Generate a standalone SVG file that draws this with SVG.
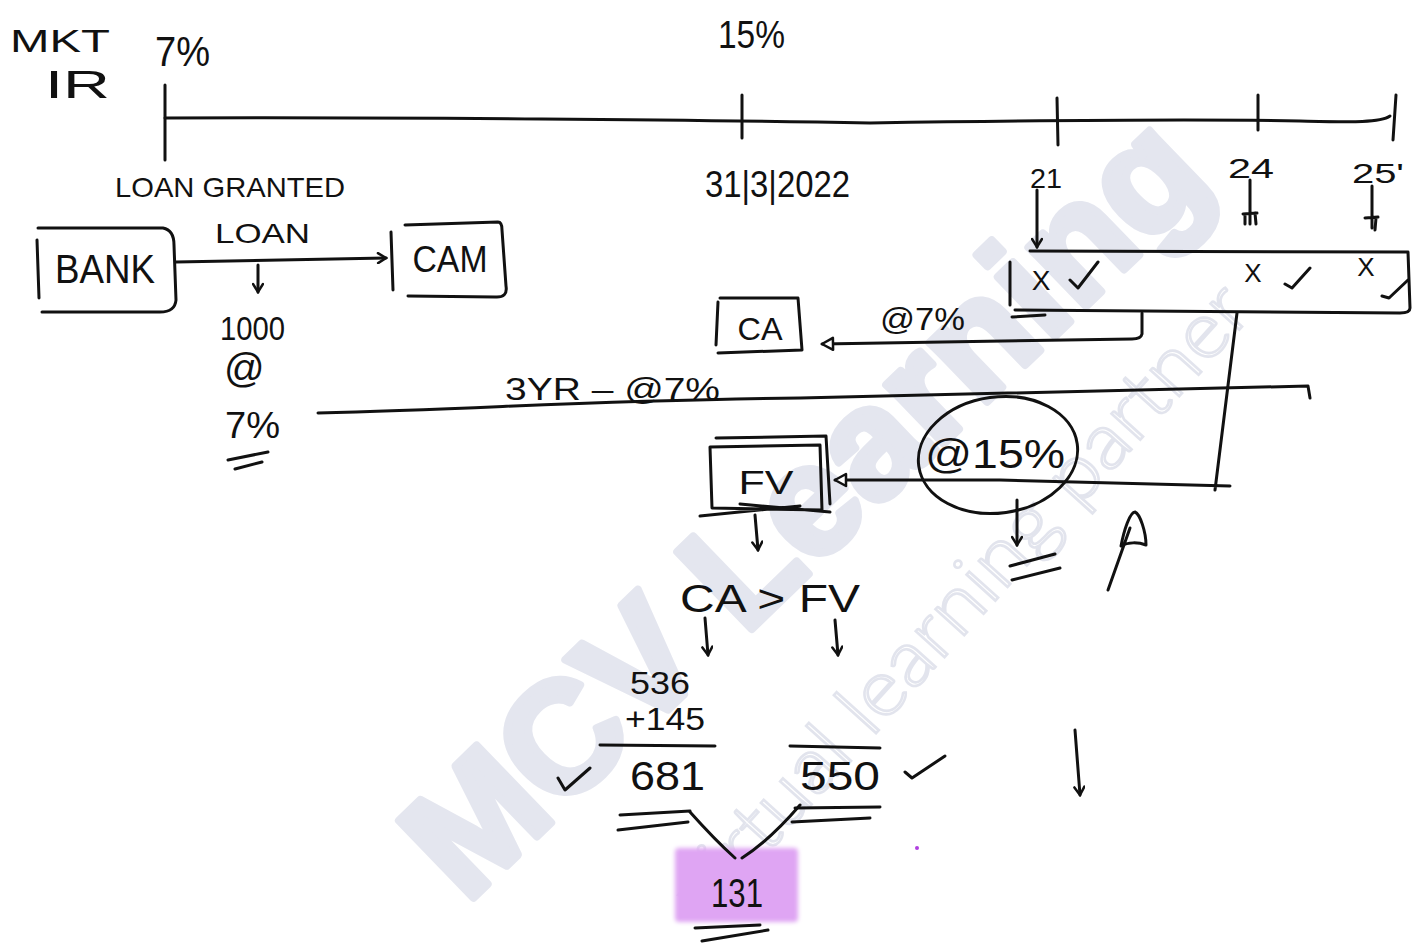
<svg xmlns="http://www.w3.org/2000/svg" width="1424" height="946" viewBox="0 0 1424 946">
<style>
.s{fill:none;stroke:#111;stroke-width:3;stroke-linecap:round;stroke-linejoin:round}
.t{font-family:"Liberation Sans",Arial,sans-serif;fill:#111}
.wm{font-family:"Liberation Sans",Arial,sans-serif;font-weight:bold;fill:#e4e6ef;stroke:#e4e6ef;stroke-width:8;stroke-linejoin:round}
.wm2{font-family:Lato,"Liberation Sans",sans-serif;font-weight:300;fill:none;stroke:#e2e4ed;stroke-width:2.5}
</style>
<defs>
<marker id="ah" viewBox="0 0 12 12" refX="10" refY="6" markerWidth="12" markerHeight="12" markerUnits="userSpaceOnUse" orient="auto">
<path d="M2,1 L10,6 L2,11" fill="none" stroke="#111" stroke-width="2.5" stroke-linecap="round"/>
</marker>
<marker id="oh" viewBox="0 0 16 16" refX="14" refY="8" markerWidth="16" markerHeight="16" markerUnits="userSpaceOnUse" orient="auto">
<path d="M3,2 L14,8 L3,14 Z" fill="#fff" stroke="#111" stroke-width="2.5" stroke-linejoin="round"/>
</marker>
<filter id="soft" x="-10%" y="-10%" width="120%" height="120%"><feGaussianBlur stdDeviation="2"/></filter>
</defs>
<rect width="1424" height="946" fill="#fff"/>
<g id="watermark">
<text class="wm" font-size="156" transform="translate(466,905) rotate(-44)" textLength="1040" lengthAdjust="spacingAndGlyphs">MCV Learning</text>
<text class="wm2" font-size="78" transform="translate(706,922) rotate(-48)" textLength="820" lengthAdjust="spacingAndGlyphs">virtual learning partner</text>
</g>
<g id="labels">
<text class="t" x="10" y="52" font-size="32" textLength="100" lengthAdjust="spacingAndGlyphs">MKT</text>
<text class="t" x="45" y="98" font-size="38" textLength="65" lengthAdjust="spacingAndGlyphs">IR</text>
<text class="t" x="155" y="66" font-size="42" textLength="55" lengthAdjust="spacingAndGlyphs">7%</text>
<text class="t" x="718" y="48" font-size="38" textLength="67" lengthAdjust="spacingAndGlyphs">15%</text>
<text class="t" x="115" y="197" font-size="28" textLength="230" lengthAdjust="spacingAndGlyphs">LOAN GRANTED</text>
<text class="t" x="705" y="197" font-size="36" textLength="145" lengthAdjust="spacingAndGlyphs">31|3|2022</text>
<text class="t" x="1030" y="188" font-size="28" textLength="32" lengthAdjust="spacingAndGlyphs">21</text>
<text class="t" x="1228" y="178" font-size="28" textLength="46" lengthAdjust="spacingAndGlyphs">24</text>
<text class="t" x="1352" y="183" font-size="28" textLength="52" lengthAdjust="spacingAndGlyphs">25'</text>
<text class="t" x="215" y="243" font-size="28" textLength="95" lengthAdjust="spacingAndGlyphs">LOAN</text>
<text class="t" x="220" y="340" font-size="34" textLength="65" lengthAdjust="spacingAndGlyphs">1000</text>
<text class="t" x="224" y="382" font-size="40">@</text>
<text class="t" x="225" y="438" font-size="36" textLength="55" lengthAdjust="spacingAndGlyphs">7%</text>
<text class="t" x="505" y="400" font-size="32" textLength="215" lengthAdjust="spacingAndGlyphs">3YR – @7%</text>
<text class="t" x="880" y="330" font-size="32" textLength="85" lengthAdjust="spacingAndGlyphs">@7%</text>
<text class="t" x="680" y="612" font-size="38" textLength="180" lengthAdjust="spacingAndGlyphs">CA &gt; FV</text>
<text class="t" x="630" y="694" font-size="32" textLength="60" lengthAdjust="spacingAndGlyphs">536</text>
<text class="t" x="625" y="730" font-size="32" textLength="80" lengthAdjust="spacingAndGlyphs">+145</text>
<text class="t" x="630" y="790" font-size="40" textLength="75" lengthAdjust="spacingAndGlyphs">681</text>
<text class="t" x="800" y="790" font-size="40" textLength="80" lengthAdjust="spacingAndGlyphs">550</text>
</g>
<g id="timeline">
<path class="s" d="M165,118 C400,117 700,120 870,123 C1000,121 1200,119 1300,121 C1350,122 1380,123 1390,116"/>
<path class="s" d="M165,85 L165,160 M742,95 L742,138 M1057,98 L1058,145 M1258,95 L1258,130 M1396,95 L1393,140"/>
</g>
<g id="bank">
<path class="s" d="M38,228 L163,228 Q174,230 174,245 L176,300 Q175,312 160,312 L42,312 M37,240 L39,298"/>
<text class="t" x="105" y="283" font-size="40" text-anchor="middle" textLength="100" lengthAdjust="spacingAndGlyphs">BANK</text>
</g>
<g id="cam">
<path class="s" d="M391,232 L393,290 M405,225 L498,222 Q502,222 502,230 L506,286 Q508,298 495,297 L408,296"/>
<text class="t" x="450" y="272" font-size="36" text-anchor="middle" textLength="75" lengthAdjust="spacingAndGlyphs">CAM</text>
</g>
<g id="periods">
<path class="s" d="M1030,251 L1408,252 L1410,308 Q1410,313 1400,313 L1015,310 M1010,262 L1010,305 M1012,317 L1045,315"/>
<text class="t" x="1041" y="290" font-size="28" text-anchor="middle">X</text>
<text class="t" x="1253" y="282" font-size="26" text-anchor="middle">X</text>
<text class="t" x="1366" y="276" font-size="26" text-anchor="middle">X</text>
<path class="s" d="M1070,280 L1078,288 L1098,262 M1285,284 L1292,288 L1310,268 M1382,296 L1389,298 L1408,280"/>
</g>
<g id="ca">
<path class="s" d="M718,302 L716,345 M720,298 L798,298 L802,350 L718,353"/>
<text class="t" x="760" y="340" font-size="32" text-anchor="middle" textLength="45" lengthAdjust="spacingAndGlyphs">CA</text>
</g>
<g id="fv">
<path class="s" d="M716,438 L826,436 L830,504 M710,447 L820,445 L822,510 L712,508 Z M700,516 L800,506 M740,504 L830,512"/>
<text class="t" x="766" y="494" font-size="34" text-anchor="middle" textLength="55" lengthAdjust="spacingAndGlyphs">FV</text>
</g>
<g id="rate15">
<ellipse class="s" cx="998" cy="455" rx="80" ry="58" transform="rotate(-8 998 455)"/>
<text class="t" x="995" y="468" font-size="40" text-anchor="middle" textLength="140" lengthAdjust="spacingAndGlyphs">@15%</text>
</g>
<g id="result131">
<rect x="675" y="848" width="123" height="74" rx="4" fill="#dfa5f3" filter="url(#soft)"/>
<text class="t" x="737" y="907" font-size="40" text-anchor="middle" textLength="52" lengthAdjust="spacingAndGlyphs">131</text>
<circle cx="917" cy="848" r="2" fill="#b040e0"/>
</g>
<g id="connectors">
<path class="s" d="M176,262 L386,258" marker-end="url(#ah)"/>
<path class="s" d="M258,265 L258,292" marker-end="url(#ah)"/>
<path class="s" d="M1037,190 L1037,247" marker-end="url(#ah)"/>
<path class="s" d="M1250,180 L1250,224 M1243,214 L1257,213 M1245,214 L1245,224 M1255,213 L1256,224"/>
<path class="s" d="M1372,186 L1372,228 M1365,218 L1378,217 M1376,218 L1375,230"/>
<path class="s" d="M1142,313 L1142,334 Q1141,339 1132,339 L822,344" marker-end="url(#oh)"/>
<path class="s" d="M1237,313 L1215,490 M1230,486 L1000,480 L835,480" marker-end="url(#oh)"/>
<path class="s" d="M318,413 C500,408 600,400 800,398 C1000,394 1200,387 1308,386 L1310,398"/>
<path class="s" d="M755,515 L758,550" marker-end="url(#ah)"/>
<path class="s" d="M1017,500 L1017,545" marker-end="url(#ah)"/>
<path class="s" d="M1010,566 L1055,554 M1012,580 L1060,568"/>
<path class="s" d="M1108,590 L1130,528 M1121,546 C1124,530 1130,512 1135,512 C1140,514 1146,532 1146,545 C1138,542 1128,542 1121,546 Z"/>
<path class="s" d="M705,618 L708,655" marker-end="url(#ah)"/>
<path class="s" d="M835,620 L838,655" marker-end="url(#ah)"/>
<path class="s" d="M600,745 L715,746 M790,746 L880,748"/>
<path class="s" d="M620,815 L690,811 M618,830 L688,822 M795,808 L880,807 M792,822 L870,818"/>
<path class="s" d="M690,812 Q715,840 735,858 M800,805 Q770,840 742,858"/>
<path class="s" d="M695,928 L760,925 M702,941 L768,930"/>
<path class="s" d="M1075,730 L1080,795" marker-end="url(#ah)"/>
<path class="s" d="M558,778 L565,790 L590,768 M905,772 L912,778 L945,756"/>
<path class="s" d="M228,460 L268,452 M235,469 L262,462"/>
</g>
</svg>
